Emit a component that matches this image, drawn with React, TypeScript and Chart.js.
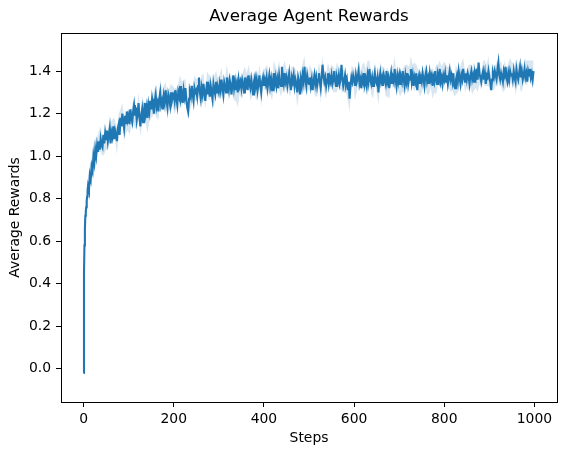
import React, { useEffect, useRef } from "react";
import { Chart, registerables } from "chart.js";

Chart.register(...registerables);

const TITLE = "Average Agent Rewards";
const X_LABEL = "Steps";
const Y_LABEL = "Average Rewards";
const X_TICKS = [0, 200, 400, 600, 800, 1000];
const Y_TICKS = [0, 0.2, 0.4, 0.6, 0.8, 1.0, 1.2, 1.4];

// mean reward, one value per step for steps 0..9
const START_REWARDS = [-0.02, 0.45, 0.58, 0.66, 0.72, 0.74, 0.76, 0.79, 0.81, 0.84];
// band half-width for steps 0..9
const START_STD = [0.06, 0.07, 0.06, 0.05, 0.05, 0.04, 0.04, 0.04, 0.04, 0.04];

// mean reward from step 10, one value every 2 steps (10, 12, ..., 998)
const REWARDS = [
  0.86, 0.84, 0.91, 0.89, 0.95, 0.93, 1.0, 0.97, 1.03, 1.0, 1.05, 1.02, 1.07, 1.03, 1.08, 1.05, 1.04, 1.1, 1.06, 1.11,
  1.08, 1.12, 1.07, 1.1, 1.13, 1.06, 1.11, 1.09, 1.14, 1.08, 1.12, 1.1, 1.07, 1.13, 1.15, 1.1, 1.18, 1.14, 1.2, 1.16, 1.13, 1.19, 1.15, 1.21, 1.17,
  1.19, 1.15, 1.22, 1.18, 1.16, 1.21, 1.24, 1.19, 1.23, 1.17, 1.2, 1.25, 1.18, 1.14, 1.19, 1.22, 1.16, 1.21, 1.25, 1.2, 1.23, 1.18, 1.24, 1.21, 1.26,
  1.22, 1.27, 1.24, 1.2, 1.26, 1.29, 1.23, 1.25, 1.21, 1.27, 1.3, 1.24, 1.26, 1.22, 1.28, 1.25, 1.31, 1.26, 1.23, 1.29, 1.27, 1.24, 1.3, 1.26, 1.28,
  1.29, 1.26, 1.31, 1.27, 1.24, 1.3, 1.28, 1.33, 1.27, 1.29, 1.25, 1.31, 1.28, 1.32, 1.26, 1.23, 1.21, 1.27, 1.3, 1.28, 1.33, 1.29, 1.26, 1.32, 1.3,
  1.31, 1.28, 1.33, 1.37, 1.3, 1.27, 1.32, 1.29, 1.34, 1.3, 1.26, 1.31, 1.35, 1.29, 1.32, 1.28, 1.33, 1.3, 1.27, 1.34, 1.31, 1.29, 1.35, 1.3, 1.32,
  1.3, 1.34, 1.31, 1.36, 1.32, 1.29, 1.35, 1.33, 1.3, 1.37, 1.33, 1.31, 1.36, 1.34, 1.29, 1.33, 1.38, 1.32, 1.35, 1.31, 1.34, 1.3, 1.36, 1.33, 1.35,
  1.32, 1.36, 1.34, 1.3, 1.37, 1.33, 1.35, 1.31, 1.38, 1.34, 1.32, 1.36, 1.33, 1.29, 1.35, 1.37, 1.33, 1.36, 1.31, 1.34, 1.38, 1.33, 1.3, 1.35, 1.37,
  1.33, 1.36, 1.34, 1.37, 1.32, 1.35, 1.38, 1.33, 1.36, 1.31, 1.35, 1.39, 1.34, 1.37, 1.33, 1.36, 1.32, 1.38, 1.35, 1.33, 1.42, 1.37, 1.34, 1.39, 1.35,
  1.37, 1.33, 1.36, 1.39, 1.34, 1.31, 1.37, 1.35, 1.38, 1.33, 1.36, 1.34, 1.3, 1.37, 1.35, 1.29, 1.36, 1.33, 1.38, 1.35, 1.42, 1.36, 1.33, 1.38, 1.35,
  1.34, 1.37, 1.33, 1.36, 1.31, 1.35, 1.38, 1.34, 1.37, 1.33, 1.36, 1.39, 1.35, 1.32, 1.37, 1.43, 1.38, 1.35, 1.37, 1.33, 1.36, 1.39, 1.34, 1.37, 1.35,
  1.38, 1.34, 1.36, 1.4, 1.35, 1.33, 1.37, 1.35, 1.38, 1.34, 1.36, 1.43, 1.37, 1.33, 1.35, 1.38, 1.34, 1.36, 1.31, 1.35, 1.27, 1.33, 1.37, 1.35, 1.38,
  1.36, 1.33, 1.38, 1.35, 1.37, 1.4, 1.34, 1.36, 1.32, 1.37, 1.35, 1.39, 1.34, 1.36, 1.33, 1.38, 1.35, 1.41, 1.36, 1.34, 1.37, 1.33, 1.36, 1.39, 1.35,
  1.34, 1.37, 1.3, 1.36, 1.39, 1.35, 1.37, 1.33, 1.38, 1.36, 1.34, 1.4, 1.35, 1.37, 1.32, 1.36, 1.39, 1.34, 1.37, 1.35, 1.41, 1.36, 1.33, 1.38, 1.35,
  1.38, 1.34, 1.37, 1.35, 1.4, 1.36, 1.33, 1.38, 1.35, 1.39, 1.34, 1.37, 1.36, 1.41, 1.35, 1.38, 1.33, 1.37, 1.35, 1.39, 1.31, 1.36, 1.38, 1.34, 1.37,
  1.35, 1.39, 1.36, 1.33, 1.38, 1.4, 1.35, 1.37, 1.34, 1.39, 1.36, 1.38, 1.33, 1.37, 1.35, 1.4, 1.36, 1.34, 1.38, 1.36, 1.41, 1.35, 1.37, 1.34, 1.38,
  1.36, 1.39, 1.35, 1.38, 1.34, 1.37, 1.4, 1.36, 1.38, 1.35, 1.39, 1.33, 1.32, 1.36, 1.38, 1.35, 1.4, 1.37, 1.34, 1.38, 1.36, 1.41, 1.37, 1.35, 1.39,
  1.36, 1.39, 1.37, 1.34, 1.38, 1.4, 1.36, 1.38, 1.35, 1.39, 1.37, 1.41, 1.36, 1.44, 1.39, 1.37, 1.35, 1.38, 1.4, 1.36, 1.39, 1.34, 1.38, 1.37, 1.4,
  1.37, 1.35, 1.31, 1.36, 1.39, 1.37, 1.4, 1.38, 1.36, 1.41, 1.44, 1.38, 1.36, 1.39, 1.37, 1.35, 1.4, 1.38, 1.42, 1.37, 1.35, 1.39, 1.36, 1.4, 1.38,
  1.39, 1.36, 1.4, 1.37, 1.35, 1.41, 1.38, 1.36, 1.39, 1.42, 1.37, 1.4, 1.36, 1.38, 1.41, 1.37, 1.39, 1.35, 1.4, 1.38, 1.41, 1.37, 1.39, 1.36, 1.4,
];

// band half-width from step 10, one value every 4 steps (10, 14, ..., 998)
const STD = [
  0.04, 0.05, 0.04, 0.06, 0.05, 0.04, 0.05, 0.06, 0.04, 0.05, 0.05, 0.04, 0.06, 0.05, 0.04, 0.05, 0.06, 0.05, 0.04, 0.05, 0.06, 0.04, 0.05, 0.05, 0.04,
  0.05, 0.06, 0.04, 0.05, 0.05, 0.06, 0.04, 0.05, 0.07, 0.05, 0.04, 0.05, 0.06, 0.05, 0.04, 0.06, 0.05, 0.05, 0.04, 0.06, 0.05, 0.04, 0.05, 0.06, 0.05,
  0.04, 0.05, 0.06, 0.05, 0.04, 0.05, 0.07, 0.05, 0.04, 0.06, 0.05, 0.04, 0.05, 0.06, 0.05, 0.04, 0.05, 0.06, 0.05, 0.04, 0.07, 0.05, 0.05, 0.04, 0.06,
  0.05, 0.04, 0.06, 0.05, 0.05, 0.04, 0.06, 0.05, 0.07, 0.04, 0.05, 0.06, 0.05, 0.04, 0.05, 0.06, 0.05, 0.04, 0.06, 0.05, 0.05, 0.07, 0.04, 0.05, 0.06,
  0.05, 0.04, 0.05, 0.06, 0.05, 0.04, 0.07, 0.05, 0.05, 0.06, 0.04, 0.05, 0.06, 0.05, 0.04, 0.05, 0.07, 0.05, 0.04, 0.06, 0.05, 0.05, 0.04, 0.06, 0.05,
  0.04, 0.06, 0.05, 0.05, 0.07, 0.04, 0.05, 0.06, 0.05, 0.04, 0.05, 0.06, 0.05, 0.07, 0.04, 0.05, 0.06, 0.05, 0.04, 0.05, 0.06, 0.05, 0.04, 0.07, 0.05,
  0.05, 0.04, 0.06, 0.05, 0.05, 0.07, 0.04, 0.05, 0.06, 0.05, 0.04, 0.06, 0.05, 0.05, 0.04, 0.06, 0.07, 0.05, 0.04, 0.05, 0.06, 0.05, 0.04, 0.06, 0.05,
  0.06, 0.05, 0.04, 0.05, 0.06, 0.05, 0.07, 0.04, 0.05, 0.06, 0.05, 0.04, 0.05, 0.06, 0.05, 0.04, 0.06, 0.05, 0.07, 0.05, 0.04, 0.05, 0.06, 0.05, 0.04,
  0.05, 0.06, 0.04, 0.05, 0.07, 0.05, 0.04, 0.06, 0.05, 0.05, 0.04, 0.06, 0.05, 0.07, 0.04, 0.05, 0.06, 0.05, 0.04, 0.05, 0.06, 0.05, 0.07, 0.04, 0.05,
  0.06, 0.05, 0.04, 0.05, 0.06, 0.05, 0.07, 0.04, 0.05, 0.06, 0.05, 0.04, 0.06, 0.05, 0.05, 0.07, 0.04, 0.05, 0.06, 0.05, 0.04, 0.06, 0.05,
];

const LINE_COLOR = "#1f77b4";
const BAND_COLOR = "rgba(31,119,180,0.18)";
const FONT = "'DejaVu Sans', sans-serif";

const framePlugin = {
  id: "frame",
  afterDraw(chart: any) {
    const { ctx, chartArea } = chart;
    const l = Math.round(chartArea.left);
    const t = Math.round(chartArea.top);
    const r = Math.round(chartArea.right);
    const b = Math.round(chartArea.bottom);
    ctx.save();
    ctx.strokeStyle = "#000";
    ctx.lineWidth = 1;
    ctx.strokeRect(l + 0.5, t + 0.5, r - l, b - t);
    ctx.restore();
  },
};

export default function App() {
  const ref = useRef<HTMLCanvasElement | null>(null);

  useEffect(() => {
    if (!ref.current) return;

    const mean: { x: number; y: number }[] = [];
    const upper: { x: number; y: number }[] = [];
    const lower: { x: number; y: number }[] = [];
    START_REWARDS.forEach((v, s) => {
      mean.push({ x: s, y: v });
      upper.push({ x: s, y: v + START_STD[s] });
      lower.push({ x: s, y: v - START_STD[s] });
    });
    REWARDS.forEach((v, i) => mean.push({ x: 10 + 2 * i, y: v }));
    STD.forEach((sd, i) => {
      const v = REWARDS[2 * i];
      if (v === undefined) return;
      upper.push({ x: 10 + 4 * i, y: v + sd });
      lower.push({ x: 10 + 4 * i, y: v - sd });
    });

    const tickFont = { family: FONT, size: 13.9 };

    const chart = new Chart(ref.current, {
      type: "line",
      data: {
        datasets: [
          {
            data: mean,
            borderColor: LINE_COLOR,
            borderWidth: 2.1,
            pointRadius: 0,
            fill: false,
            tension: 0,
          },
          {
            data: upper,
            borderWidth: 0,
            borderColor: "rgba(0,0,0,0)",
            backgroundColor: BAND_COLOR,
            pointRadius: 0,
            fill: "+1",
            tension: 0,
          },
          {
            data: lower,
            borderWidth: 0,
            borderColor: "rgba(0,0,0,0)",
            pointRadius: 0,
            fill: false,
            tension: 0,
          },
        ],
      },
      options: {
        responsive: false,
        animation: false,
        parsing: false,
        normalized: true,
        layout: { padding: { left: 0, right: 10, top: 0, bottom: 0 } },
        plugins: {
          legend: { display: false },
          tooltip: { enabled: false },
          title: {
            display: true,
            text: TITLE,
            fullSize: false,
            color: "#000",
            font: { family: FONT, size: 16.7, weight: "normal" },
            padding: { top: 7, bottom: 6 },
          },
        },
        scales: {
          x: {
            type: "linear",
            min: -50,
            max: 1050,
            afterBuildTicks: (scale: any) => {
              scale.ticks = X_TICKS.map((v) => ({ value: v }));
            },
            afterFit: (scale: any) => {
              scale.height = 53;
            },
            ticks: {
              color: "#000",
              font: tickFont,
              padding: 4,
              maxRotation: 0,
              autoSkip: false,
              callback: (v: any) => String(v),
            },
            grid: {
              drawOnChartArea: false,
              drawTicks: true,
              tickLength: 5,
              color: "#000",
              lineWidth: 1,
            },
            border: { display: true, color: "#000", width: 1 },
            title: {
              display: true,
              text: X_LABEL,
              color: "#000",
              font: tickFont,
              padding: { top: 0, bottom: 8.5 },
            },
          },
          y: {
            type: "linear",
            min: -0.157,
            max: 1.579,
            afterBuildTicks: (scale: any) => {
              scale.ticks = Y_TICKS.map((v) => ({ value: v }));
            },
            afterFit: (scale: any) => {
              scale.width = 61;
            },
            ticks: {
              color: "#000",
              font: tickFont,
              padding: 5,
              autoSkip: false,
              callback: (v: any) => Number(v).toFixed(1),
            },
            grid: {
              drawOnChartArea: false,
              drawTicks: true,
              tickLength: 5,
              color: "#000",
              lineWidth: 1,
            },
            border: { display: true, color: "#000", width: 1 },
            title: {
              display: true,
              text: Y_LABEL,
              color: "#000",
              font: tickFont,
              padding: { top: 7, bottom: 0 },
            },
          },
        },
      },
      plugins: [framePlugin],
    } as any);

    return () => chart.destroy();
  }, []);

  return (
    <div style={{ position: "absolute", left: 0, top: 0, width: 567, height: 455, background: "#fff" }}>
      <canvas ref={ref} width={567} height={455} style={{ display: "block", width: 567, height: 455 }} />
    </div>
  );
}
